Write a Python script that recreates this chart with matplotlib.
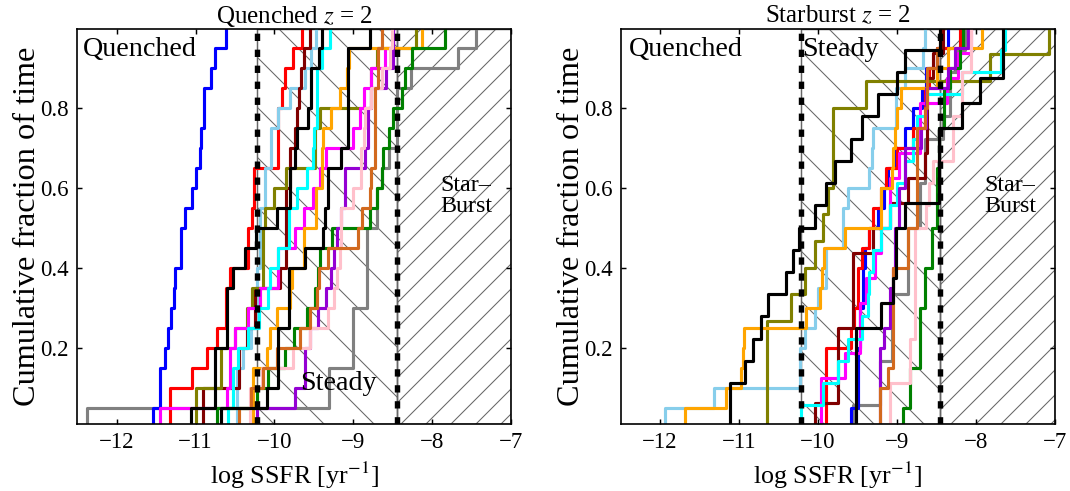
import numpy as np
import matplotlib
matplotlib.use('Agg')
import matplotlib.pyplot as plt

# ---------------- data: sorted log SSFR samples per galaxy ----------------
# Left panel: "Quenched z = 2"
q_blue = [-11.535, -11.45, -11.45, -11.39, -11.35, -11.31, -11.28, -11.26, -11.18, -11.18,
          -11.14, -11.05, -10.99, -10.94, -10.93, -10.89, -10.89, -10.80, -10.76, -10.62]
q_gray = [-12.38, -9.31, -9.31, -9.0, -9.0, -9.0, -8.83, -8.83, -8.83, -8.83,
          -8.70, -8.70, -8.64, -8.55, -8.45, -8.45, -8.45, -8.27, -7.67, -7.44]
q_red = [-11.33, -11.33, -11.04, -10.86, -10.73, -10.61, -10.61, -10.56, -10.34, -10.33,
         -10.29, -10.26, -10.26, -9.95, -9.95, -9.95, -9.91, -9.86, -9.76, -9.65]
q_skyblue = [-10.47, -10.47, -10.47, -10.40, -10.30, -10.22, -10.22, -10.22, -10.18, -10.18,
             -10.18, -10.12, -10.12, -10.04, -10.04, -9.95, -9.80, -9.61, -9.53, -9.47]
q_maroon = [-10.90, -10.90, -10.45, -10.45, -10.35, -10.25, -10.25, -9.93, -9.85, -9.85,
            -9.85, -9.85, -9.80, -9.80, -9.74, -9.72, -9.69, -9.66, -9.62, -9.55]
q_black1 = [-11.06, -10.75, -10.75, -10.75, -10.60, -10.60, -10.60, -10.52, -10.37, -10.23,
            -9.97, -9.80, -9.80, -9.74, -9.72, -9.58, -9.53, -9.53, -9.44, -9.40]
q_black2 = [-10.68, -10.10, -9.95, -9.95, -9.95, -9.82, -9.82, -9.82, -9.61, -9.38,
            -9.36, -9.32, -9.32, -9.15, -9.07, -9.07, -9.07, -9.07, -9.07, -8.79]
q_cyan = [-10.59, -10.52, -10.52, -10.46, -10.33, -10.20, -10.08, -10.05, -9.95, -9.82,
          -9.82, -9.72, -9.59, -9.51, -9.50, -9.46, -9.46, -9.46, -9.40, -9.30]
q_magenta = [-11.45, -10.60, -10.56, -10.56, -10.50, -10.33, -10.18, -9.95, -9.95, -9.74,
             -9.62, -9.51, -9.42, -9.34, -9.00, -8.92, -8.87, -8.77, -8.60, -8.49]
q_orange = [-10.27, -10.27, -10.27, -10.10, -10.05, -9.97, -9.80, -9.78, -9.63, -9.62,
            -9.47, -9.47, -9.40, -9.40, -9.38, -9.28, -9.17, -9.08, -9.05, -8.13]
q_olive = [-10.99, -10.99, -10.68, -10.68, -10.50, -10.35, -10.28, -10.15, -10.15, -10.15,
           -10.12, -10.00, -9.85, -9.48, -9.48, -9.42, -8.77, -8.77, -8.70, -8.20]
q_green = [-10.73, -10.22, -10.08, -9.87, -9.75, -9.59, -9.49, -9.45, -9.42, -9.27,
           -8.79, -8.70, -8.64, -8.62, -8.55, -8.50, -8.38, -8.34, -8.25, -7.84]
q_chocolate = [-10.45, -10.30, -10.14, -9.97, -9.68, -9.55, -9.46, -9.44, -9.32, -8.94,
               -8.89, -8.79, -8.77, -8.72, -8.72, -8.72, -8.72, -8.68, -8.68, -8.63]
q_pink = [-10.31, -10.31, -10.16, -9.76, -9.55, -9.32, -9.25, -9.20, -9.17, -9.16,
          -9.15, -9.00, -8.90, -8.90, -8.87, -8.85, -8.77, -8.64, -8.54, -8.51]
q_violet = [-10.22, -9.74, -9.61, -9.61, -9.55, -9.45, -9.35, -9.28, -9.25, -9.20,
            -9.15, -9.11, -9.11, -8.85, -8.81, -8.81, -8.77, -8.58, -8.49, -8.49]

# Right panel: "Starburst z = 2"
s_skyblue = [-11.94, -11.32, -10.23, -10.23, -10.17, -10.04, -10.00, -9.90, -9.895, -9.68,
             -9.68, -9.62, -9.35, -9.32, -9.30, -9.01, -9.01, -8.90, -8.67, -8.65]
s_orange = [-11.69, -11.16, -10.97, -10.95, -10.94, -10.15, -9.98, -9.95, -9.92, -9.66,
            -9.20, -9.20, -9.07, -9.05, -9.02, -9.00, -8.95, -8.50, -8.35, -7.93]
s_black1 = [-11.12, -11.12, -10.93, -10.83, -10.72, -10.63, -10.40, -10.32, -10.24, -10.04,
            -9.90, -9.79, -9.58, -9.45, -9.24, -9.00, -8.90, -8.45]
s_olive = [-10.65, -10.65, -10.65, -10.65, -10.34, -10.17, -10.04, -9.94, -9.87, -9.81,
           -9.81, -9.81, -9.39, -7.82, -7.08]
s_black2 = [-9.52, -9.52, -9.52, -9.52, -9.20, -9.05, -9.01, -9.01, -8.90, -8.47,
            -8.47, -8.47, -8.18, -7.95, -7.66, -7.66]
s_blue = [-9.58, -9.49, -9.49, -9.49, -9.47, -9.47, -9.43, -9.43, -9.41, -9.35,
          -9.24, -9.16, -9.11, -9.01, -8.90, -8.80, -8.69, -8.63, -8.50, -8.35]
s_red = [-9.90, -9.90, -9.90, -9.90, -9.58, -9.55, -9.50, -9.50, -9.45, -9.35,
         -9.30, -9.20, -9.135, -9.00, -8.80, -8.65, -8.65, -8.60, -8.50, -8.20]
s_maroon = [-10.04, -9.75, -9.75, -9.75, -9.56, -9.56, -9.56, -9.30, -9.09, -8.86,
            -8.65, -8.62, -8.62, -8.62, -8.55, -8.42]
s_magenta = [-9.96, -9.96, -9.66, -9.47, -9.47, -9.39, -9.28, -9.20, -9.09, -9.09,
             -8.97, -8.71, -8.71, -8.37, -8.23, -8.06]
s_cyan = [-10.21, -9.94, -9.75, -9.62, -9.45, -9.37, -9.35, -9.30, -9.20, -9.09,
          -9.00, -8.90, -8.80, -8.75, -8.63, -8.18, -7.68, -7.63]
s_violet = [-9.22, -9.22, -9.22, -9.22, -9.16, -9.09, -9.09, -9.05, -9.03, -9.03,
            -8.97, -8.97, -8.90, -8.90, -8.70, -8.63, -8.63, -8.35, -8.27, -8.10]
s_chocolate = [-9.22, -9.22, -9.11, -9.05, -9.05, -9.05, -9.05, -9.05, -8.86, -8.86,
               -8.75, -8.75, -8.75, -8.75, -8.75, -8.65, -8.62, -8.62, -8.50, -8.45]
s_gray = [-9.56, -9.22, -9.22, -9.07, -9.07, -9.07, -8.86, -8.86, -8.86, -8.71,
          -8.71, -8.65, -8.65, -8.42, -8.33, -8.33, -8.25, -8.14]
s_pink = [-9.09, -9.09, -8.84, -8.84, -8.775, -8.775, -8.775, -8.775, -8.775, -8.63,
          -8.60, -8.55, -8.29, -8.29, -8.18, -8.18, -8.06, -8.06]
s_green = [-8.92, -8.84, -8.84, -8.71, -8.71, -8.71, -8.65, -8.65, -8.56, -8.56,
           -8.50, -8.50, -8.50, -8.47, -8.47, -8.40, -8.40, -8.33, -8.20, -8.16]

left_series = [(q_gray, 'gray'), (q_blue, 'blue'), (q_red, 'red'), (q_skyblue, 'skyblue'),
               (q_maroon, 'maroon'), (q_olive, 'olive'), (q_magenta, 'magenta'),
               (q_cyan, 'cyan'), (q_orange, 'orange'), (q_green, 'green'),
               (q_violet, 'darkviolet'), (q_pink, 'pink'), (q_chocolate, 'chocolate'),
               (q_black2, 'black'), (q_black1, 'black')]
right_series = [(s_gray, 'gray'), (s_blue, 'blue'), (s_red, 'red'), (s_skyblue, 'skyblue'),
                (s_maroon, 'maroon'), (s_olive, 'olive'), (s_magenta, 'magenta'),
                (s_cyan, 'cyan'), (s_orange, 'orange'), (s_green, 'green'),
                (s_violet, 'darkviolet'), (s_pink, 'pink'), (s_chocolate, 'chocolate'),
                (s_black2, 'black'), (s_black1, 'black')]

panel_titles = ['Quenched $z$ = 2', 'Starburst $z$ = 2']
x_ticks = [-12, -11, -10, -9, -8, -7]
y_ticks = [0.2, 0.4, 0.6, 0.8]
quench_cut = -10.22
burst_cut = -8.45
x_range = (-12.5, -7.0)
y_range = (0.009, 0.9965)

# ---------------- figure ----------------
plt.rcParams['font.family'] = ['Liberation Serif', 'DejaVu Serif']
plt.rcParams['mathtext.fontset'] = 'stix'
plt.rcParams['hatch.linewidth'] = 0.5

DPI = 150
fig = plt.figure(figsize=(1070 / DPI, 491 / DPI), dpi=DPI)
ax1 = fig.add_axes([0.0723, 0.1365, 0.4052, 0.8045])
ax2 = fig.add_axes([0.580, 0.1365, 0.4060, 0.8045])

for ax, series, title in [(ax1, left_series, panel_titles[0]),
                          (ax2, right_series, panel_titles[1])]:
    ax.axvspan(quench_cut, burst_cut, facecolor='none', edgecolor='0.4',
               hatch='\\', lw=0.7, zorder=0)
    ax.axvspan(burst_cut, x_range[1], facecolor='none', edgecolor='0.4',
               hatch='//', lw=0.7, zorder=0)
    for vals, col in series:
        v = np.sort(np.asarray(vals, dtype=float))
        n = len(v)
        xs = np.r_[v[0], v]
        ys = np.arange(n + 1) / n
        ax.step(xs, ys, where='post', color=col, lw=1.5, zorder=2)
    for xc in (quench_cut, burst_cut):
        ax.axvline(xc, color='k', lw=2.6, ls=(0, (1.35, 1.6)), zorder=5)
    ax.set_xlim(*x_range)
    ax.set_ylim(*y_range)
    ax.set_xticks(x_ticks)
    ax.set_yticks(y_ticks)
    ax.set_yticklabels([f'{t:.1f}' for t in y_ticks])
    ax.tick_params(direction='in', top=True, right=True, length=2.5, width=0.7,
                   labelsize=11, pad=4)
    for sp in ax.spines.values():
        sp.set_linewidth(0.8)
    ax.set_xlabel('log SSFR [yr$^{-1}$]', fontsize=12.5, labelpad=3)
    ax.set_ylabel('Cumulative fraction of time', fontsize=15.5, labelpad=-1)
    ax.set_title(title, fontsize=12, pad=3)
    ax.text(-7.57, 0.54, 'Star–\nBurst', ha='center', va='baseline',
            fontsize=11.5, linespacing=0.95, zorder=6)

ax1.text(-12.43, 0.93, 'Quenched', fontsize=13.5, ha='left', va='baseline', zorder=6)
ax1.text(-9.68, 0.094, 'Steady', fontsize=13.5, ha='left', va='baseline', zorder=6)
ax2.text(-12.40, 0.93, 'Quenched', fontsize=13.5, ha='left', va='baseline', zorder=6)
ax2.text(-10.20, 0.93, 'Steady', fontsize=13.5, ha='left', va='baseline', zorder=6)

fig.savefig('out.png', dpi=DPI)
